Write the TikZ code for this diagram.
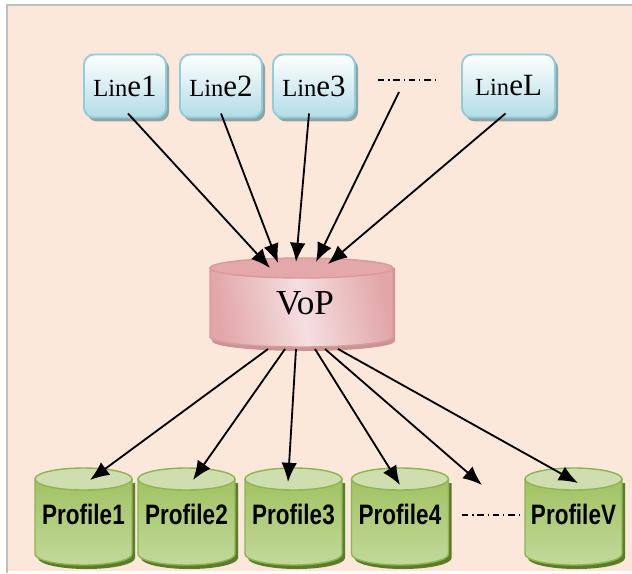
\documentclass[tikz,border=0pt]{standalone}
\usepackage{fontspec}
\setmainfont{Liberation Serif}
\newfontfamily\profont[FakeStretch=0.8]{Liberation Sans}
\usetikzlibrary{arrows.meta,shadows}
\definecolor{paper}{HTML}{FCE8DB}
\definecolor{framegray}{HTML}{BFBFBF}
\definecolor{boxedge}{HTML}{92CDDC}
\definecolor{boxblue}{HTML}{B2DCE6}
\definecolor{boxshadow}{HTML}{8FA3A4}
\definecolor{vopedge}{HTML}{D99A9B}
\definecolor{voptop}{HTML}{E4A8AA}
\definecolor{vopdark}{HTML}{E2A6A8}
\definecolor{voplight}{HTML}{F5DFE0}
\definecolor{vopshadow}{HTML}{C99495}
\definecolor{profedge}{HTML}{8CB54F}
\definecolor{proftop}{HTML}{CFDEAF}
\definecolor{profdark}{HTML}{A2C262}
\definecolor{proflight}{HTML}{C2D99B}
\definecolor{profshadow}{HTML}{5C7C2C}

\begin{document}
\begin{tikzpicture}[x=0.025cm,y=-0.025cm,
    linebox/.style={draw=boxedge, line width=1.4pt, rounded corners=0.25cm,
      top color=white, bottom color=boxblue, minimum width=2.05cm,
      minimum height=1.575cm, inner sep=0pt,
      drop shadow={shadow xshift=2.2pt, shadow yshift=-2.8pt, fill=boxshadow, opacity=1}},
    proflabel/.style={font=\profont\bfseries\fontsize{20}{20}\selectfont},
    arr/.style={-{Latex[length=4.8mm,width=3.9mm]}, line width=1.3pt},
    dotdash/.style={line width=1.1pt, dash pattern=on 4.5pt off 2.8pt on 0.9pt off 2.8pt}]
        \useasboundingbox (0,0) rectangle (632,573);
        % background and frame
        \fill[paper] (7,5) rectangle (632,571);
        \draw[framegray, line width=1.2pt] (7,573) -- (7,5) -- (632,5);

        % lines
        \node[linebox] (l1) at (125,86) {{\fontsize{17.5}{17}\selectfont Lin}{\fontsize{22}{21}\selectfont e1}};
        \node[linebox] (l2) at (221,86) {{\fontsize{17.5}{17}\selectfont Lin}{\fontsize{22}{21}\selectfont e2}};
        \node[linebox] (l3) at (314,86) {{\fontsize{17.5}{17}\selectfont Lin}{\fontsize{22}{21}\selectfont e3}};
        \node[linebox, minimum width=2.325cm] (lL) at (508.5,86) {{\fontsize{17.5}{17}\selectfont Lin}{\fontsize{22}{21}\selectfont eL}};
        \draw[dotdash] (378,80) -- (438,80);
        \coordinate (dtop) at (399,92);

        % VoP
        \fill[vopshadow] (212,268) -- (212,341) arc[start angle=180, end angle=0, x radius=91.5, y radius=10] -- (395,268) -- cycle;
        \shade[draw=vopedge, line width=1pt, left color=vopdark, right color=vopdark, middle color=voplight, shading angle=100]
          (210,268) -- (210,337) arc[start angle=180, end angle=0, x radius=91.5, y radius=10] -- (393,268) -- cycle;
        \draw[vopedge, line width=1pt, fill=voptop] (301.5,268) ellipse [x radius=91.5, y radius=10];
        \node[font=\fontsize{25}{25}\selectfont] (vop) at (305,303) {VoP};
        \coordinate (vi1) at (270,268);
        \coordinate (vi2) at (278,263);
        \coordinate (vi3) at (296,262);
        \coordinate (vi4) at (316,262);
        \coordinate (vi5) at (328,264);
        \coordinate (vo1) at (268,349);
        \coordinate (vo2) at (285,349);
        \coordinate (vo3) at (296,349);
        \coordinate (vo4) at (315,349);
        \coordinate (vo5) at (325,349);
        \coordinate (vo6) at (338,349);

        % profiles
        \fill[profshadow] (38,483) -- (38,558) arc[start angle=180, end angle=0, x radius=48.5, y radius=11] -- (135,483) -- cycle;
        \shade[draw=profedge, line width=1pt, top color=profdark, bottom color=proflight] (35,479) -- (35,554) arc[start angle=180, end angle=0, x radius=48.5, y radius=11] -- (132,479) -- cycle;
        \draw[profedge, line width=1pt, fill=proftop] (83.5,479) ellipse [x radius=48.5, y radius=11];
        \fill[profshadow] (141,483) -- (141,558) arc[start angle=180, end angle=0, x radius=48.5, y radius=11] -- (238,483) -- cycle;
        \shade[draw=profedge, line width=1pt, top color=profdark, bottom color=proflight] (138,479) -- (138,554) arc[start angle=180, end angle=0, x radius=48.5, y radius=11] -- (235,479) -- cycle;
        \draw[profedge, line width=1pt, fill=proftop] (186.5,479) ellipse [x radius=48.5, y radius=11];
        \fill[profshadow] (248,483) -- (248,558) arc[start angle=180, end angle=0, x radius=48.5, y radius=11] -- (345,483) -- cycle;
        \shade[draw=profedge, line width=1pt, top color=profdark, bottom color=proflight] (245,479) -- (245,554) arc[start angle=180, end angle=0, x radius=48.5, y radius=11] -- (342,479) -- cycle;
        \draw[profedge, line width=1pt, fill=proftop] (293.5,479) ellipse [x radius=48.5, y radius=11];
        \fill[profshadow] (354.5,483) -- (354.5,558) arc[start angle=180, end angle=0, x radius=48.5, y radius=11] -- (451.5,483) -- cycle;
        \shade[draw=profedge, line width=1pt, top color=profdark, bottom color=proflight] (351.5,479) -- (351.5,554) arc[start angle=180, end angle=0, x radius=48.5, y radius=11] -- (448.5,479) -- cycle;
        \draw[profedge, line width=1pt, fill=proftop] (400,479) ellipse [x radius=48.5, y radius=11];
        \fill[profshadow] (528,483) -- (528,558) arc[start angle=180, end angle=0, x radius=48.5, y radius=11] -- (625,483) -- cycle;
        \shade[draw=profedge, line width=1pt, top color=profdark, bottom color=proflight] (525,479) -- (525,554) arc[start angle=180, end angle=0, x radius=48.5, y radius=11] -- (622,479) -- cycle;
        \draw[profedge, line width=1pt, fill=proftop] (573.5,479) ellipse [x radius=48.5, y radius=11];
        \draw[dotdash] (462,515) -- (521,515);
        \node[proflabel] (p1) at (83.5,514) {Profile1};
        \node[proflabel] (p2) at (186.5,514) {Profile2};
        \node[proflabel] (p3) at (293.5,514) {Profile3};
        \node[proflabel] (p4) at (400,514) {Profile4};
        \node[proflabel] (pV) at (573.5,514) {ProfileV};
        \coordinate (pi1) at (90,480);
        \coordinate (pi2) at (193,480);
        \coordinate (pi3) at (288,482);
        \coordinate (pi4) at (400,485);
        \coordinate (dbot) at (482,485);
        \coordinate (piV) at (578,483);

        % arrows
        \draw[arr] ([shift={(3,-5)}]l1.south) -- (vi1);
        \draw[arr] ([shift={(0,-5)}]l2.south) -- (vi2);
        \draw[arr] ([shift={(-5,-5)}]l3.south) -- (vi3);
        \draw[arr] (dtop) -- (vi4);
        \draw[arr] ([shift={(-3,-5)}]lL.south) -- (vi5);
        \draw[arr] (vo1) -- (pi1);
        \draw[arr] (vo2) -- (pi2);
        \draw[arr] (vo3) -- (pi3);
        \draw[arr] (vo4) -- (pi4);
        \draw[arr] (vo5) -- (dbot);
        \draw[arr] (vo6) -- (piV);
\end{tikzpicture}
\end{document}
